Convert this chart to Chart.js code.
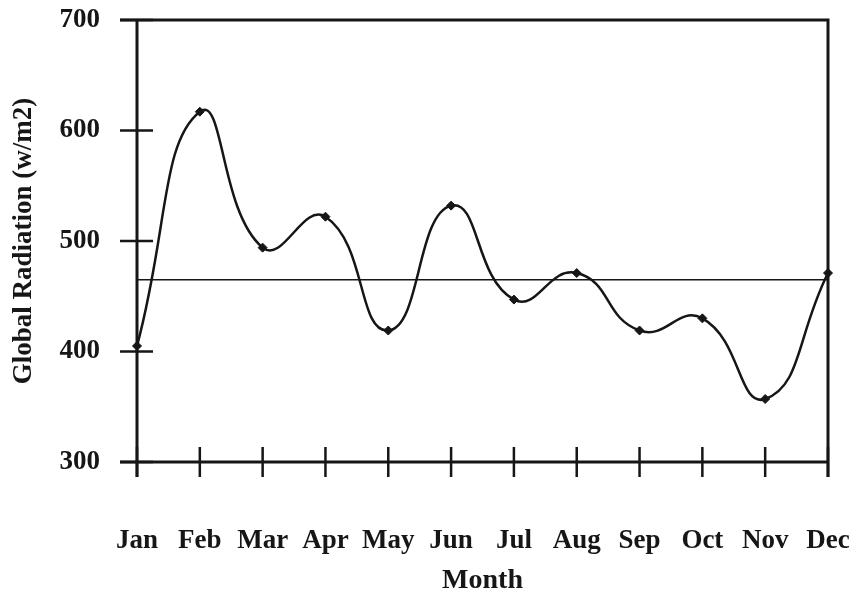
<!DOCTYPE html>
<html>
<head>
<meta charset="utf-8">
<script src="https://cdn.jsdelivr.net/npm/chart.js@4.4.1/dist/chart.umd.min.js"></script>
<style>
  html, body { margin: 0; padding: 0; background: #fff; }
  #wrap { width: 858px; height: 598px; }
</style>
</head>
<body>
<div id="wrap"><canvas id="radiation-chart" width="858" height="598"></canvas></div>
<script>
// values
const months = ['Jan', 'Feb', 'Mar', 'Apr', 'May', 'Jun', 'Jul', 'Aug', 'Sep', 'Oct', 'Nov', 'Dec'];
const radiation = [405, 617, 494, 522, 419, 532, 447, 471, 419, 430, 357, 471];
const averageLevel = 465;
const yTicks = [300, 400, 500, 600, 700];

const ink = '#161616';
const serif = '"Liberation Serif", "Times New Roman", serif';

// axes drawn as in the scan: ticks cross the axis lines, box closed top and right
const crossTicks = {
    id: 'crossTicks',
    afterDatasetsDraw(chart) {
        const ctx = chart.ctx;
        const area = chart.chartArea;
        const x = chart.scales.x;
        const y = chart.scales.y;
        ctx.save();
        ctx.strokeStyle = ink;
        ctx.lineCap = 'butt';

        // frame
        ctx.lineWidth = 3;
        ctx.beginPath();
        ctx.moveTo(area.left - 17, area.top);
        ctx.lineTo(area.right, area.top);
        ctx.lineTo(area.right, area.bottom + 15);
        ctx.moveTo(area.left, area.top);
        ctx.lineTo(area.left, area.bottom + 15);
        ctx.moveTo(area.left - 17, area.bottom);
        ctx.lineTo(area.right, area.bottom);
        ctx.stroke();

        // y ticks
        ctx.lineWidth = 2.5;
        ctx.beginPath();
        y.ticks.forEach(t => {
            const py = y.getPixelForValue(t.value);
            ctx.moveTo(area.left - 17, py);
            ctx.lineTo(area.left + 16, py);
        });
        // x ticks
        months.forEach((m, i) => {
            const px = x.getPixelForValue(i);
            ctx.moveTo(px, area.bottom - 15);
            ctx.lineTo(px, area.bottom + 15);
        });
        ctx.stroke();
        ctx.restore();
    }
};

function initChart() {
    window.radiationChart = new Chart(
        document.getElementById('radiation-chart').getContext('2d'),
        {
            type: 'line',
            data: {
                labels: months,
                datasets: [
                    {
                        label: 'Global Radiation',
                        data: radiation,
                        borderColor: ink,
                        borderWidth: 2.5,
                        tension: 0.5,
                        pointStyle: 'rectRot',
                        pointRadius: 4.5,
                        pointBackgroundColor: ink,
                        pointBorderColor: ink,
                        pointBorderWidth: 1,
                        fill: false,
                        order: 1
                    },
                    {
                        label: 'Average',
                        data: months.map(() => averageLevel),
                        borderColor: ink,
                        borderWidth: 1.5,
                        pointRadius: 0,
                        tension: 0,
                        fill: false,
                        order: 2
                    }
                ]
            },
            options: {
                responsive: false,
                animation: false,
                layout: { autoPadding: false, padding: { left: 0, top: 20, right: 30, bottom: 0 } },
                plugins: {
                    legend: { display: false },
                    tooltip: { enabled: false }
                },
                scales: {
                    x: {
                        type: 'category',
                        offset: false,
                        grid: { display: false, drawTicks: false },
                        border: { display: false },
                        ticks: {
                            color: ink,
                            padding: 63,
                            maxRotation: 0,
                            autoSkip: false,
                            font: { family: serif, size: 27, weight: 'bold' }
                        },
                        title: {
                            display: true,
                            text: 'Month',
                            color: ink,
                            padding: { top: 0, bottom: 0 },
                            font: { family: serif, size: 28, weight: 'bold' }
                        },
                        afterFit(scale) {
                            scale.height = 136;
                            scale.paddingLeft = 0;
                            scale.paddingRight = 0;
                        }
                    },
                    y: {
                        min: 300,
                        max: 700,
                        grid: { display: false, drawTicks: false },
                        border: { display: false },
                        afterBuildTicks(scale) {
                            scale.ticks = yTicks.map(v => ({ value: v }));
                        },
                        ticks: {
                            color: ink,
                            padding: 37,
                            font: { family: serif, size: 27, weight: 'bold' }
                        },
                        title: {
                            display: true,
                            text: 'Global Radiation (w/m2)',
                            color: ink,
                            padding: { top: 8, bottom: 0 },
                            font: { family: serif, size: 27, weight: 'bold' }
                        },
                        afterFit(scale) {
                            scale.width = 137;
                            scale.paddingTop = 0;
                            scale.paddingBottom = 0;
                        }
                    }
                }
            },
            plugins: [crossTicks]
        }
    );
}

initChart();
</script>
</body>
</html>
